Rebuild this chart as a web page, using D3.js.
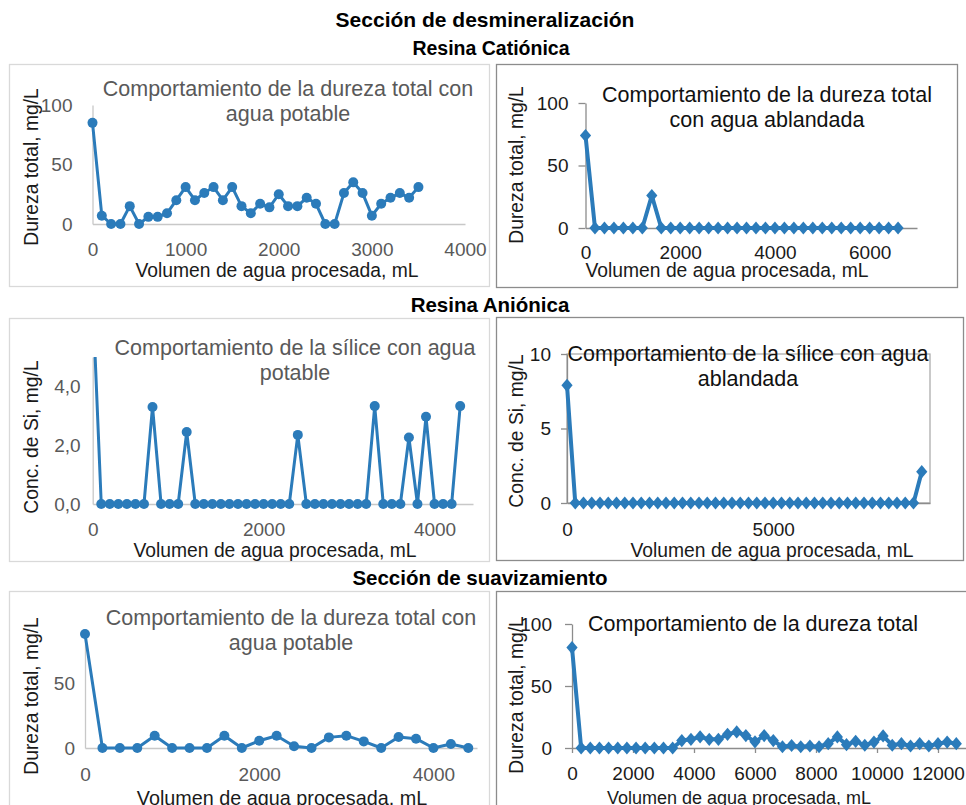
<!DOCTYPE html>
<html>
<head>
<meta charset="utf-8">
<script src="https://cdn.jsdelivr.net/npm/d3@7"></script>
<style>
  body { margin: 0; background: #fff; }
  text { font-family: Arial, "Liberation Sans", sans-serif; }
</style>
</head>
<body>
<svg id="chart" width="966" height="805"></svg>
<script>
// ---------- Data ----------
// Resina catiónica, agua potable: dureza total (mg/L) vs volumen (mL)
const volCatPotable = [0,100,200,300,400,500,600,700,800,900,1000,1100,1200,1300,1400,1500,1600,1700,
  1800,1900,2000,2100,2200,2300,2400,2500,2600,2700,2800,2900,3000,3100,3200,3300,3400,3500];
const durCatPotable = [85,7,0,0,15,0,6,6,9,20,31,20,26,31,20,31,15,9,
  17,14,25,15,15,22,17,0,0,26,35,26,7,17,22,26,22,31];

// Resina catiónica, agua ablandada
const volCatAblandada = [0,200,400,600,800,1000,1200,1400,1600,1800,2000,2200,2400,2600,2800,3000,3200,
  3400,3600,3800,4000,4200,4400,4600,4800,5000,5200,5400,5600,5800,6000,6200,6400,6600];
const durCatAblandada = [74,0,0,0,0,0,0,26,0,0,0,0,0,0,0,0,0,
  0,0,0,0,0,0,0,0,0,0,0,0,0,0,0,0,0];

// Resina aniónica, agua potable: sílice (mg/L)
const volAniPotable = [0,100,200,300,400,500,600,700,800,900,1000,1100,1200,1300,1400,1500,1600,1700,1800,1900,
  2000,2100,2200,2300,2400,2500,2600,2700,2800,2900,3000,3100,3200,3300,3400,3500,3600,3700,3800,3900,
  4000,4100,4200,4300];
const siAniPotable = [7,0,0,0,0,0,0,3.3,0,0,0,2.45,0,0,0,0,0,0,0,0,
  0,0,0,0,2.35,0,0,0,0,0,0,0,0,3.33,0,0,0,2.26,0,2.97,
  0,0,0,3.33];

// Resina aniónica, agua ablandada
const volAniAblandada = [0,200,400,600,800,1000,1200,1400,1600,1800,2000,2200,2400,2600,2800,3000,3200,3400,
  3600,3800,4000,4200,4400,4600,4800,5000,5200,5400,5600,5800,6000,6200,6400,6600,6800,7000,7200,7400,
  7600,7800,8000,8200,8400,8600];
const siAniAblandada = [7.9,0,0,0,0,0,0,0,0,0,0,0,0,0,0,0,0,0,
  0,0,0,0,0,0,0,0,0,0,0,0,0,0,0,0,0,0,0,0,
  0,0,0,0,0,2.1];

// Sección de suavizamiento, agua potable
const volSuavPotable = [0,200,400,600,800,1000,1200,1400,1600,1800,2000,2200,2400,2600,2800,3000,3200,3400,
  3600,3800,4000,4200,4400];
const durSuavPotable = [88,0,0,0,9.5,0,0,0,9.5,0,5.6,9.5,1.3,0,8.2,9.5,5.1,0,
  8.5,7.2,0,3.1,0];

// Sección de suavizamiento, dureza total
const volSuav = [0,300,600,900,1200,1500,1800,2100,2400,2700,3000,3300,3600,3900,4200,4500,4800,5100,5400,
  5700,6000,6300,6600,6900,7200,7500,7800,8100,8400,8700,9000,9300,9600,9900,10200,10500,10800,11100,
  11400,11700,12000,12300,12600];
const durSuav = [81,0,0,0,0,0,0,0,0,0,0,0,6,7,9,7,7,11,13,
  10,5,10,6,1,2,1,1.6,1,3.5,8.9,2.7,5.4,2.2,4.8,9.7,2.2,3.5,1.6,
  3.5,1.6,3.5,4.8,3.5];

// Tick values per chart
const ticksX1 = [0,1000,2000,3000,4000], ticksY1 = [0,50,100];
const ticksX2 = [0,2000,4000,6000],      ticksY2 = [0,50,100];
const ticksX3 = [0,2000,4000],           ticksY3 = [0,2,4];
const ticksX4 = [0,5000],                ticksY4 = [0,5,10];
const ticksX5 = [0,2000,4000],           ticksY5 = [0,50];
const ticksX6 = [0,2000,4000,6000,8000,10000,12000], ticksY6 = [0,50,100];

// Headings
const headings = [
  {text: "Sección de desmineralización", x: 485, y: 27, size: 21},
  {text: "Resina Catiónica", x: 491, y: 55, size: 19.5},
  {text: "Resina Aniónica", x: 490, y: 312, size: 20.5},
  {text: "Sección de suavizamiento", x: 480, y: 585, size: 20.5}
];

// ---------- Drawing ----------
const svg = d3.select("#chart");
const BLUE = "#2b7bba";
const comma = d3.formatLocale({decimal: ",", thousands: ".", grouping: [3], currency: ["", ""]});

headings.forEach(h => svg.append("text")
  .attr("x", h.x).attr("y", h.y).attr("text-anchor", "middle")
  .attr("font-size", h.size).attr("font-weight", "bold").attr("fill", "#000")
  .text(h.text));

function diamondPath(w, h) {
  return `M0,${-h}L${w},0L0,${h}L${-w},0Z`;
}

let clipId = 0;
function drawPanel(p) {
  const g = svg.append("g");

  // chart frame
  g.append("rect")
    .attr("x", p.box[0] + 0.5).attr("y", p.box[1] + 0.5)
    .attr("width", p.box[2]).attr("height", p.box[3])
    .attr("fill", "none").attr("stroke", p.frame).attr("stroke-width", 1.3);

  const x = d3.scaleLinear().domain(p.xDomain).range(p.xRange);
  const y = d3.scaleLinear().domain(p.yDomain).range(p.yRange);

  if (p.plotBorder) {
    g.append("rect")
      .attr("x", p.xRange[0]).attr("y", p.yRange[1])
      .attr("width", p.xRange[1] - p.xRange[0]).attr("height", p.yRange[0] - p.yRange[1])
      .attr("fill", "none").attr("stroke", "#a6a6a6").attr("stroke-width", 1.2);
  }

  // y axis
  const ya = g.append("g")
    .attr("transform", `translate(${p.xRange[0]},0)`)
    .call(d3.axisLeft(y).tickValues(p.yTicks).tickSizeInner(p.yTick).tickSizeOuter(0)
      .tickPadding(p.yPad).tickFormat(p.yFormat));
  // x axis
  const xa = g.append("g")
    .attr("transform", `translate(0,${y(0)})`)
    .call(d3.axisBottom(x).tickValues(p.xTicks).tickSizeInner(p.xTick).tickSizeOuter(0)
      .tickPadding(p.xPad).tickFormat(d3.format("d")));

  [xa, ya].forEach(a => {
    a.select(".domain").attr("stroke", p.axis).attr("stroke-width", 1.3);
    a.selectAll(".tick line").attr("stroke", p.axis).attr("stroke-width", 1.3);
    a.selectAll(".tick text").attr("fill", p.tickColor).attr("font-size", 19)
      .attr("font-family", "Arial, 'Liberation Sans', sans-serif");
  });

  // series, clipped to the plot area
  const id = "clip" + (clipId++);
  const top = p.yRange[1] - p.clipTop;
  g.append("clipPath").attr("id", id).append("rect")
    .attr("x", p.xRange[0] - 8).attr("y", top)
    .attr("width", p.xRange[1] - p.xRange[0] + 16).attr("height", p.yRange[0] - top + 10);
  const s = g.append("g").attr("clip-path", `url(#${id})`);
  const pts = p.xs.map((v, i) => [v, p.ys[i]]);
  s.append("path").datum(pts)
    .attr("d", d3.line().x(d => x(d[0])).y(d => y(d[1])))
    .attr("fill", "none").attr("stroke", BLUE).attr("stroke-width", p.lineW)
    .attr("stroke-linejoin", "round");
  if (p.marker === "circle") {
    s.selectAll("circle").data(pts).join("circle")
      .attr("cx", d => x(d[0])).attr("cy", d => y(d[1])).attr("r", 5).attr("fill", BLUE);
  } else {
    s.selectAll("path.m").data(pts).join("path").attr("class", "m")
      .attr("transform", d => `translate(${x(d[0])},${y(d[1])})`)
      .attr("d", diamondPath(5.6, 6.6)).attr("fill", BLUE);
  }

  // chart title
  p.title.forEach((t, i) => g.append("text")
    .attr("x", p.titlePos[0]).attr("y", p.titlePos[1] + i * 25)
    .attr("text-anchor", "middle").attr("font-size", 21.5).attr("fill", p.titleColor)
    .text(t));

  // axis titles
  g.append("text")
    .attr("transform", `translate(${p.yLabelPos[0]},${p.yLabelPos[1]}) rotate(-90)`)
    .attr("text-anchor", "middle").attr("font-size", 19.3).attr("fill", "#1a1a1a")
    .text(p.yLabel);
  g.append("text")
    .attr("x", p.xLabelPos[0]).attr("y", p.xLabelPos[1])
    .attr("text-anchor", "middle").attr("font-size", p.xLabelSize || 19.3).attr("fill", "#1a1a1a")
    .text("Volumen de agua procesada, mL");
}

const LIGHT = "#d9d9d9", DARK = "#8c8c8c";
const intFmt = d3.format("d"), oneDec = comma.format(".1f");

drawPanel({
  box: [9, 64, 480, 222], frame: LIGHT,
  xs: volCatPotable, ys: durCatPotable,
  xDomain: [0, 4000], xRange: [92.5, 465], yDomain: [0, 100], yRange: [224, 105], clipTop: 8,
  xTicks: ticksX1, yTicks: ticksY1, xTick: 0, yTick: 0, xPad: 19, yPad: 20, yFormat: intFmt,
  axis: "#c8c8c8", tickColor: "#595959", marker: "circle", lineW: 3,
  title: ["Comportamiento de la dureza total con", "agua potable"], titlePos: [288, 96], titleColor: "#595959",
  yLabel: "Dureza total, mg/L", yLabelPos: [38, 167], xLabelPos: [277, 277]
});

drawPanel({
  box: [496, 64, 461, 223], frame: DARK,
  xs: volCatAblandada, ys: durCatAblandada,
  xDomain: [0, 7000], xRange: [585.5, 917], yDomain: [0, 100], yRange: [228, 103], clipTop: 8,
  xTicks: ticksX2, yTicks: ticksY2, xTick: 0, yTick: 7, xPad: 18, yPad: 10, yFormat: intFmt,
  axis: "#8c8c8c", tickColor: "#1a1a1a", marker: "diamond", lineW: 4,
  title: ["Comportamiento de la dureza total", "con agua ablandada"], titlePos: [767, 102], titleColor: "#111",
  yLabel: "Dureza total, mg/L", yLabelPos: [523, 165], xLabelPos: [727, 277]
});

drawPanel({
  box: [9, 318, 480, 243], frame: LIGHT,
  xs: volAniPotable, ys: siAniPotable,
  xDomain: [0, 4450], xRange: [92.7, 473], yDomain: [0, 5], yRange: [504, 357], clipTop: 0,
  xTicks: ticksX3, yTicks: ticksY3, xTick: 0, yTick: 0, xPad: 19, yPad: 12, yFormat: oneDec,
  axis: "#c8c8c8", tickColor: "#595959", marker: "circle", lineW: 3,
  title: ["Comportamiento de la sílice con agua", "potable"], titlePos: [295, 355], titleColor: "#595959",
  yLabel: "Conc. de Si, mg/L", yLabelPos: [38, 437], xLabelPos: [275, 557]
});

drawPanel({
  box: [496, 317, 467, 243], frame: DARK,
  xs: volAniAblandada, ys: siAniAblandada,
  xDomain: [0, 8800], xRange: [567, 930], yDomain: [0, 10], yRange: [503, 354], clipTop: 8,
  xTicks: ticksX4, yTicks: ticksY4, xTick: 0, yTick: 6, xPad: 20, yPad: 10, yFormat: intFmt,
  axis: "#8c8c8c", tickColor: "#1a1a1a", marker: "diamond", lineW: 4, plotBorder: true,
  title: ["Comportamiento de la sílice con agua", "ablandada"], titlePos: [748, 361], titleColor: "#111",
  yLabel: "Conc. de Si, mg/L", yLabelPos: [523, 431], xLabelPos: [772, 557]
});

drawPanel({
  box: [9, 591, 480, 230], frame: LIGHT,
  xs: volSuavPotable, ys: durSuavPotable,
  xDomain: [0, 4500], xRange: [85, 477], yDomain: [0, 88], yRange: [748, 634], clipTop: 8,
  xTicks: ticksX5, yTicks: ticksY5, xTick: 0, yTick: 0, xPad: 20, yPad: 10, yFormat: intFmt,
  axis: "#c8c8c8", tickColor: "#595959", marker: "circle", lineW: 3,
  title: ["Comportamiento de la dureza total con", "agua potable"], titlePos: [291, 625], titleColor: "#595959",
  yLabel: "Dureza total, mg/L", yLabelPos: [38, 696], xLabelPos: [282, 805], xLabelSize: 19.8
});

drawPanel({
  box: [496, 591, 480, 230], frame: DARK,
  xs: volSuav, ys: durSuav,
  xDomain: [0, 14000], xRange: [572, 999], yDomain: [0, 100], yRange: [748, 624], clipTop: 8,
  xTicks: ticksX6, yTicks: ticksY6, xTick: 5, yTick: 7, xPad: 14, yPad: 13, yFormat: intFmt,
  axis: "#8c8c8c", tickColor: "#1a1a1a", marker: "diamond", lineW: 4,
  title: ["Comportamiento de la dureza total"], titlePos: [753, 631], titleColor: "#111",
  yLabel: "Dureza total, mg/L", yLabelPos: [523, 695], xLabelPos: [739, 804], xLabelSize: 18
});
</script>
</body>
</html>
